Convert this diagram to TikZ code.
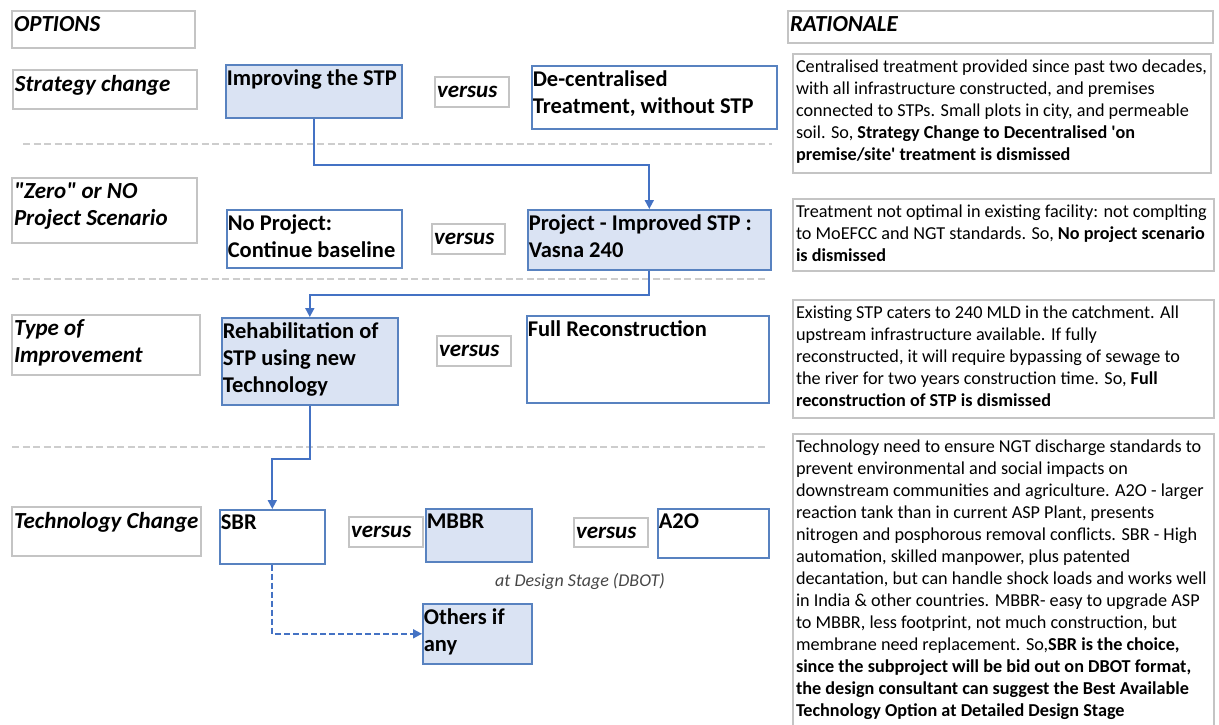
\documentclass[tikz,border=0pt]{standalone}
\usepackage{fontspec}
\setmainfont{Carlito}
\usepackage{xcolor}
\usetikzlibrary{arrows.meta,positioning,calc}

\definecolor{boxblue}{RGB}{88,130,192}
\definecolor{flowblue}{RGB}{68,114,196}
\definecolor{chosenfill}{RGB}{218,227,243}
\definecolor{framegray}{RGB}{196,196,196}
\definecolor{divgray}{RGB}{205,205,205}
\definecolor{notegray}{RGB}{70,70,70}

% text block of fixed size, text at the top left
\newcommand{\btext}[3]{\parbox[c][#2pt][t]{#1pt}{\raggedright #3}}
\newcommand{\vtext}[3]{\parbox[c][#2pt][c]{#1pt}{\raggedright #3}}

\begin{document}
\begin{tikzpicture}[
  x=1pt, y=-1pt,
  optbox/.style={draw=framegray, line width=2pt, anchor=north west, inner xsep=2pt, inner ysep=5pt,
    font=\fontsize{23}{27}\selectfont\bfseries\itshape},
  stagebox/.style={draw=boxblue, line width=1.6pt, fill=white, anchor=north west, inner xsep=1pt, inner ysep=5pt,
    font=\fontsize{22.5}{27}\selectfont\bfseries},
  chosen/.style={stagebox, fill=chosenfill},
  vsbox/.style={draw=framegray, line width=2pt, anchor=north west, inner xsep=2pt, inner ysep=0pt,
    font=\fontsize{23}{27}\selectfont\bfseries\itshape},
  ratbox/.style={draw=framegray, line width=2pt, anchor=north west, inner xsep=3pt, inner ysep=6pt,
    font=\fontsize{18.2}{22}\selectfont},
  divider/.style={divgray, line width=1.5pt, dash pattern=on 7pt off 3.5pt},
  flow/.style={flowblue, line width=1.8pt, -{Triangle[length=9pt,width=9pt]}},
  flowdash/.style={flow, dash pattern=on 6pt off 3pt}
]
  \useasboundingbox (0,0) rectangle (1219,724);

  % Left column: options
  \node[optbox] (opt) at (11,10) {\btext{179}{27}{OPTIONS}};
  \node[optbox] (lstrat) at (12,69) {\btext{180}{29}{Strategy change}};
  \node[optbox] (lzero) at (11,177) {\btext{181}{55}{\textquotedbl Zero\textquotedbl{} or NO\\Project Scenario}};
  \node[optbox] (ltype) at (11,314) {\btext{184}{50}{Type of\\Improvement}};
  \node[optbox] (ltech) at (11,506) {\btext{185}{39}{Technology Change}};

  % Strategy change
  \node[chosen] (impr) at (225,64) {\btext{174}{43}{Improving the STP}};
  \node[vsbox] (vs1) at (434,76) {\vtext{70}{30}{versus}};
  \node[stagebox] (decent) at (531,65) {\btext{243}{53}{De-centralised\\Treatment, without STP}};

  % Zero or no project
  \node[stagebox] (noproj) at (226,209) {\btext{173}{48}{No Project:\\Continue baseline}};
  \node[vsbox] (vs2) at (431,223) {\vtext{69}{30}{versus}};
  \node[chosen] (proj) at (527,209) {\btext{241}{50}{Project - Improved STP :\\Vasna 240}};

  % Type of improvement
  \node[chosen] (rehab) at (221,317) {\btext{174}{77}{Rehabilitation of\\STP using new\\Technology}};
  \node[vsbox] (vs3) at (436,335) {\vtext{70}{30}{versus}};
  \node[stagebox] (fullrec) at (526,315) {\btext{240}{77}{Full Reconstruction}};

  % Technology change
  \node[stagebox] (sbr) at (219,509) {\btext{103}{44}{SBR}};
  \node[vsbox] (vs4) at (348,516) {\vtext{70}{30}{versus}};
  \node[chosen] (mbbr) at (425,508) {\btext{104}{43}{MBBR}};
  \node[vsbox] (vs5) at (573,517) {\vtext{70}{29}{versus}};
  \node[stagebox] (atwo) at (657,508) {\btext{109}{39}{A2O}};
  \node[font=\fontsize{18}{21}\selectfont\itshape, text=notegray] (dbot) at (580,581) {at Design Stage (DBOT)};
  \node[chosen] (others) at (422,603) {\btext{107}{50}{Others if\\any}};

  % Rationale column
  \node[optbox] (rat) at (787,10) {\btext{421}{22}{RATIONALE}};
  \node[ratbox] (r1) at (792,53) {\btext{412}{107}{Centralised treatment provided since past two decades,\\
    with all infrastructure constructed, and premises\\
    connected to STPs. Small plots in city, and permeable\\
    soil. So, \textbf{Strategy Change to Decentralised \textquotesingle on}\\
    \textbf{premise/site\textquotesingle{} treatment is dismissed}}};
  \node[ratbox] (r2) at (792,198) {\btext{415}{60}{Treatment not optimal in existing facility: not complting\\
    to MoEFCC and NGT standards. So, \textbf{No project scenario}\\
    \textbf{is dismissed}}};
  \node[ratbox] (r3) at (792,299) {\btext{415}{106}{Existing STP caters to 240 MLD in the catchment. All\\
    upstream infrastructure available. If fully\\
    reconstructed, it will require bypassing of sewage to\\
    the river for two years construction time. So, \textbf{Full}\\
    \textbf{reconstruction of STP is dismissed}}};
  \node[ratbox] (r4) at (792,433) {\btext{415}{290}{Technology need to ensure NGT discharge standards to\\
    prevent environmental and social impacts on\\
    downstream communities and agriculture. A2O - larger\\
    reaction tank than in current ASP Plant, presents\\
    nitrogen and posphorous removal conflicts. SBR - High\\
    automation, skilled manpower, plus patented\\
    decantation, but can handle shock loads and works well\\
    in India \& other countries. MBBR- easy to upgrade ASP\\
    to MBBR, less footprint, not much construction, but\\
    membrane need replacement. So,\textbf{SBR is the choice,}\\
    \textbf{since the subproject will be bid out on DBOT format,}\\
    \textbf{the design consultant can suggest the Best Available}\\
    \textbf{Technology Option at Detailed Design Stage}}};

  % Dividers between the option rows
  \draw[divider] (23,144) -- (772,144);
  \draw[divider] (12,279) -- (768,279);
  \draw[divider] (12,447) -- (768,447);

  % Flow of the chosen options
  \draw[flow] (impr.south) -- ++(0,46) -| (proj.north);
  \draw[flow] (proj.south) -- ++(0,24) -| (rehab.north);
  \draw[flow] (rehab.south) -- ++(0,53) -| (sbr.north);
  \draw[flowdash] (sbr.south) |- (others.west);
\end{tikzpicture}
\end{document}
